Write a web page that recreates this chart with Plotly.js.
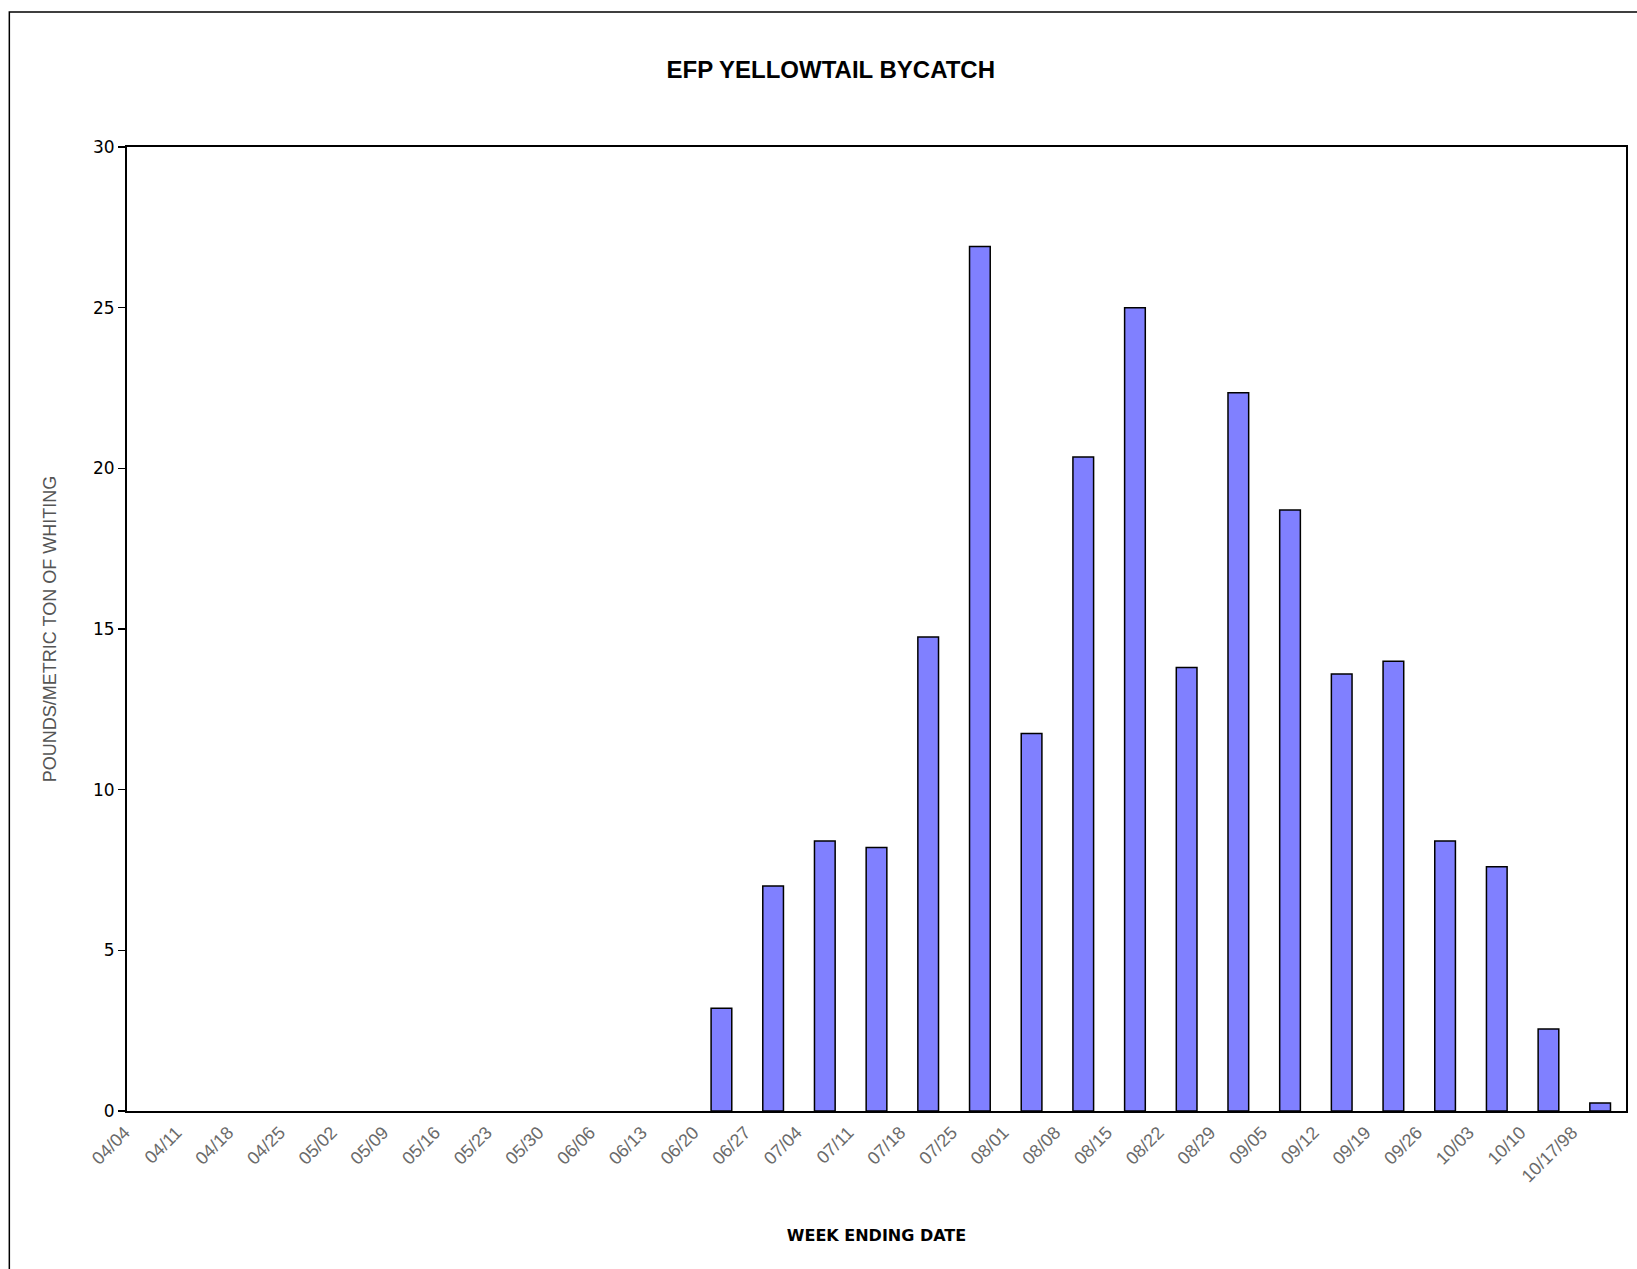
<!DOCTYPE html>
<html>
<head>
<meta charset="utf-8">
<script src="https://cdn.plot.ly/plotly-3.0.1.min.js"></script>
<style>html,body{margin:0;padding:0;background:#fff;}#chart{width:1637px;height:1269px;}</style>
</head>
<body>
<div id="chart"></div>
<script>
const weeks = ["04/04","04/11","04/18","04/25","05/02","05/09","05/16","05/23","05/30","06/06","06/13","06/20","06/27","07/04","07/11","07/18","07/25","08/01","08/08","08/15","08/22","08/29","09/05","09/12","09/19","09/26","10/03","10/10","10/17/98"];
const bycatch = [null,null,null,null,null,null,null,null,null,null,null,3.2,7.0,8.4,8.2,14.75,26.9,11.75,20.35,25.0,13.8,22.35,18.7,13.6,14.0,8.4,7.6,2.55,0.25];
const yTicks = [0,5,10,15,20,25,30];

const traces = [
  {type:'bar', x:weeks, y:bycatch, marker:{color:'#8080FF', line:{color:'#000000', width:1.5}}, hoverinfo:'x+y', showlegend:false}
];

const layout = {
  width:1637, height:1269,
  paper_bgcolor:'#ffffff', plot_bgcolor:'#ffffff',
  margin:{l:127, r:11, t:147, b:158},
  bargap:0.6,
  showlegend:false,
  title:{text:'EFP YELLOWTAIL BYCATCH', font:{family:'Liberation Sans, Arial, sans-serif', size:24, color:'#000', weight:'bold'}, x:0.5075, xanchor:'center', y:0.9455, yanchor:'middle'},
  xaxis:{type:'category', categoryorder:'array', categoryarray:weeks, range:[-0.5, weeks.length-0.5],
    tickangle:-45, ticklabelshift:-28, ticklabelstandoff:2,
    tickfont:{family:'Liberation Sans, Arial, sans-serif', size:18, color:'#6a6a6a'},
    ticks:'', showgrid:false, zeroline:false,
    showline:true, linecolor:'#000', linewidth:2, mirror:true,
    title:{text:'WEEK ENDING DATE', font:{family:'DejaVu Sans, Verdana, sans-serif', size:16, color:'#000', weight:'bold'}, standoff:44}},
  yaxis:{range:[0,30], tickmode:'array', tickvals:yTicks, ticktext:yTicks.map(String),
    ticks:'outside', ticklen:7, tickwidth:1.5, tickcolor:'#000',
    tickfont:{family:'DejaVu Sans, Verdana, sans-serif', size:17, color:'#000'},
    showgrid:false, zeroline:false, showline:true, linecolor:'#000', linewidth:2, mirror:true,
    title:{text:'POUNDS/METRIC TON OF WHITING', font:{family:'Liberation Sans, Arial, sans-serif', size:18, color:'#555'}, standoff:32}},
  shapes:[
    {type:'rect', xref:'paper', yref:'paper', x0:-0.0785, x1:1.2, y0:-0.3, y1:1.14, line:{color:'#000', width:1.5}, fillcolor:'rgba(0,0,0,0)', layer:'above'}
  ]
};

Plotly.newPlot('chart', traces, layout, {displayModeBar:false, staticPlot:true});
</script>
</body>
</html>
